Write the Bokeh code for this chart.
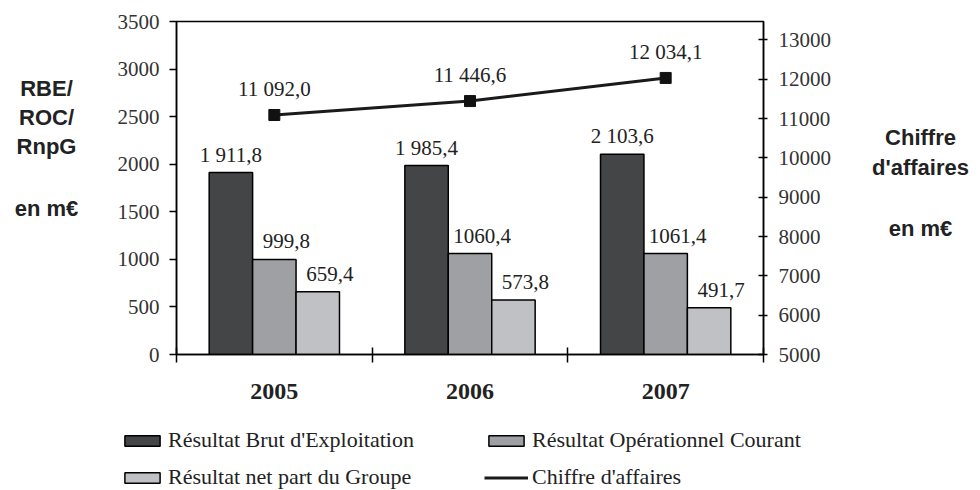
from bokeh.plotting import figure
from bokeh.layouts import row, column
from bokeh.models import (Range1d, LinearAxis, SingleIntervalTicker, FixedTicker,
                          CustomJSTickFormatter, Legend, LegendItem, ColumnDataSource)
from bokeh.core.properties import value
from bokeh.embed import file_html
from bokeh.resources import INLINE

# ---- data ----
years = ["2005", "2006", "2007"]
rbe = [1911.8, 1985.4, 2103.6]      # Résultat Brut d'Exploitation
roc = [999.8, 1060.4, 1061.4]       # Résultat Opérationnel Courant
rnpg = [659.4, 573.8, 491.7]        # Résultat net part du Groupe
ca = [11092.0, 11446.6, 12034.1]    # Chiffre d'affaires

series_names = ["Résultat Brut d'Exploitation", "Résultat Opérationnel Courant",
                "Résultat net part du Groupe", "Chiffre d'affaires"]
left_title = ["RBE/", "ROC/", "RnpG", "en m€"]
right_title = ["Chiffre", "d'affaires", "en m€"]

left_ticks_step = 500
right_ticks_step = 1000

SERIF = "'Liberation Serif', 'Times New Roman', serif"
SANS = "'Liberation Sans', Arial, sans-serif"
colors = ["#444547", "#9fa0a4", "#c0c1c5"]


def fr(v, group=True):
    s = f"{v:.1f}"
    ip, dp = s.split(".")
    if group and len(ip) > 3:
        parts = []
        while len(ip) > 3:
            parts.insert(0, ip[-3:])
            ip = ip[:-3]
        parts.insert(0, ip)
        ip = " ".join(parts)
    return ip + "," + dp


def bare(width, height, xr, yr):
    fig = figure(width=width, height=height, x_range=xr, y_range=yr,
                 x_axis_location=None, y_axis_location=None, title=None,
                 output_backend="svg", toolbar_location=None, min_border=0)
    fig.xgrid.visible = False
    fig.ygrid.visible = False
    fig.outline_line_color = None
    fig.background_fill_color = "white"
    fig.border_fill_color = "white"
    return fig


centers = [i + 0.5 for i in range(len(years))]
bw = 0.222

# ---------------- main chart ----------------
p = figure(width=760, height=410, x_range=Range1d(0, 3), y_range=Range1d(0, 3500),
           output_backend="svg", toolbar_location=None,
           min_border_left=76, min_border_right=97, min_border_top=21, min_border_bottom=56)
p.extra_y_ranges = {"ca": Range1d(5000, 13470)}
p.xgrid.visible = False
p.ygrid.visible = False
p.outline_line_color = "black"
p.outline_line_width = 1.5
p.background_fill_color = "white"
p.border_fill_color = "white"

xa = p.xaxis[0]
xa.ticker = FixedTicker(ticks=centers, minor_ticks=list(range(len(years) + 1)))
xa.formatter = CustomJSTickFormatter(args=dict(labels=years), code="return labels[Math.floor(tick)];")
xa.major_tick_in = 0
xa.major_tick_out = 0
xa.minor_tick_in = 7
xa.minor_tick_out = 8
xa.minor_tick_line_color = "black"
xa.minor_tick_line_width = 1.5
xa.axis_line_color = "black"
xa.axis_line_width = 1.5
xa.major_label_text_font = SERIF
xa.major_label_text_font_style = "bold"
xa.major_label_text_font_size = "24px"
xa.major_label_text_color = "#222222"
xa.major_label_standoff = 21

ya = p.yaxis[0]
ya.ticker = SingleIntervalTicker(interval=left_ticks_step, num_minor_ticks=0)
ya.major_tick_in = 0
ya.major_tick_out = 7
ya.major_tick_line_width = 1.5
ya.minor_tick_line_color = None
ya.axis_line_width = 1.5
ya.major_label_text_font = SERIF
ya.major_label_text_font_size = "21px"
ya.major_label_text_color = "#333333"
ya.major_label_standoff = 10

ra = LinearAxis(y_range_name="ca", ticker=SingleIntervalTicker(interval=right_ticks_step, num_minor_ticks=0))
ra.major_tick_in = 5
ra.major_tick_out = 4
ra.major_tick_line_width = 1.5
ra.minor_tick_line_color = None
ra.axis_line_width = 1.5
ra.major_label_text_font = SERIF
ra.major_label_text_font_size = "21px"
ra.major_label_text_color = "#333333"
ra.major_label_standoff = 11
p.add_layout(ra, "right")

series = [rbe, roc, rnpg]
offsets = [-bw, 0.0, bw]
label_dx = [0, 12, 12]
groups = [True, False, True]
for vals, col, off, dx, grp in zip(series, colors, offsets, label_dx, groups):
    src = ColumnDataSource(dict(x=[c + off for c in centers], top=vals,
                                lab=[fr(v, grp) for v in vals]))
    p.vbar(x="x", top="top", width=bw, bottom=0, source=src,
           fill_color=col, line_color="black", line_width=1.5)
    p.text(x="x", y="top", text="lab", source=src, text_align="center", text_baseline="middle",
           x_offset=dx, y_offset=-18, text_font=value(SERIF), text_font_size="21px",
           text_color="#222222")

lsrc = ColumnDataSource(dict(x=centers, y=ca, lab=[fr(v) for v in ca]))
p.line(x="x", y="y", source=lsrc, y_range_name="ca", line_color="#1a1a1a", line_width=3)
p.scatter(x="x", y="y", source=lsrc, y_range_name="ca", marker="square", size=11,
          fill_color="#111111", line_color="#111111")
p.text(x="x", y="y", text="lab", source=lsrc, y_range_name="ca", text_align="center",
       text_baseline="middle", y_offset=-26, text_font=value(SERIF), text_font_size="21px",
       text_color="#222222")

# ---------------- axis titles ----------------
# the row aligns these frames with the chart frame (page y 21..354), so map that span
lt = bare(100, 410, Range1d(0, 100), Range1d(354, 21))
lt.text(x=[46] * 4, y=[88, 117, 146, 208], text=left_title, text_align="center",
        text_baseline="alphabetic", text_font=value(SANS), text_font_style="bold",
        text_font_size="22px", text_color="#222222")

rt = bare(120, 410, Range1d(0, 120), Range1d(354, 21))
rt.text(x=[60] * 3, y=[137, 167, 228], text=right_title, text_align="center",
        text_baseline="alphabetic", text_font=value(SANS), text_font_style="bold",
        text_font_size="22px", text_color="#222222")

# ---------------- legend ----------------
# hidden renderers in the legend strip only supply the legend swatches
lg = bare(980, 80, Range1d(0, 3), Range1d(0, 13000))
r_rbe = lg.vbar(x=centers, top=rbe, width=bw, fill_color=colors[0], line_color="black",
                line_width=1.5, visible=False)
r_roc = lg.vbar(x=centers, top=roc, width=bw, fill_color=colors[1], line_color="black",
                line_width=1.5, visible=False)
r_rnpg = lg.vbar(x=centers, top=rnpg, width=bw, fill_color=colors[2], line_color="black",
                 line_width=1.5, visible=False)
r_ca = lg.line(x=centers, y=ca, line_color="#1a1a1a", line_width=3, visible=False)


def add_legend(items, left):
    leg = Legend(items=items, location=(left, 0), orientation="vertical",
                 glyph_width=44, glyph_height=13, label_standoff=4, spacing=11,
                 padding=0, margin=0, border_line_alpha=0, background_fill_alpha=0,
                 inactive_fill_alpha=0,
                 label_text_font=SERIF, label_text_font_size="22px", label_text_color="#222222")
    lg.add_layout(leg)


add_legend([LegendItem(label=series_names[0], renderers=[r_rbe]),
            LegendItem(label=series_names[2], renderers=[r_rnpg])], 120)
add_legend([LegendItem(label=series_names[1], renderers=[r_roc]),
            LegendItem(label=series_names[3], renderers=[r_ca])], 484)

layout = column(row(lt, p, rt), lg)
open("out.html", "w").write(file_html(layout, INLINE))
